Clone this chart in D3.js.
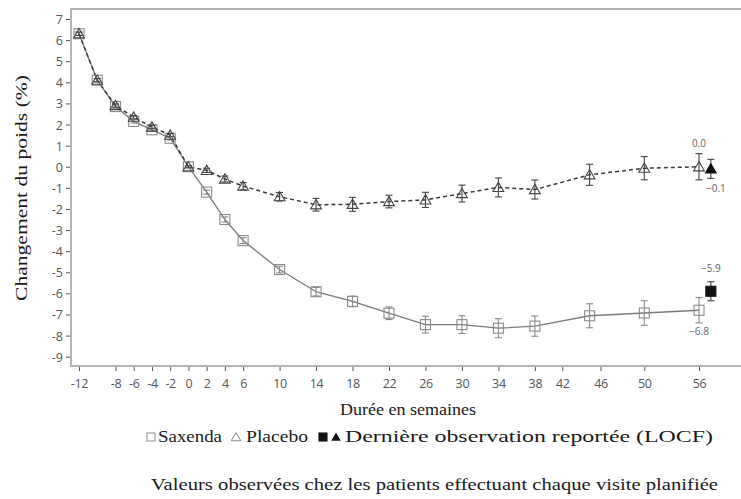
<!DOCTYPE html>
<html><head><meta charset="utf-8">
<script src="https://cdn.jsdelivr.net/npm/d3@7"></script>
<style>body{margin:0;background:#fff}svg{display:block}</style>
</head><body>
<script>
// ---- data ----
const weeks = [-12,-10,-8,-6,-4,-2,0,2,4,6,10,14,18,22,26,30,34,38,44,50,56];
const saxenda = [6.3,4.1,2.85,2.15,1.75,1.35,0.0,-1.2,-2.5,-3.5,-4.87,-5.92,-6.38,-6.94,-7.48,-7.48,-7.65,-7.55,-7.06,-6.93,-6.8];
const saxendaErr = [0.08,0.08,0.08,0.08,0.08,0.08,0.05,0.1,0.12,0.14,0.16,0.2,0.25,0.3,0.4,0.42,0.45,0.48,0.57,0.58,0.6];
const placebo = [6.3,4.1,2.9,2.35,1.88,1.5,0.0,-0.17,-0.58,-0.92,-1.42,-1.8,-1.78,-1.65,-1.57,-1.27,-0.98,-1.08,-0.38,-0.07,0.0];
const placeboErr = [0.08,0.08,0.08,0.08,0.08,0.08,0.05,0.1,0.14,0.17,0.2,0.3,0.33,0.3,0.36,0.4,0.45,0.45,0.5,0.55,0.62];
const locfWeek = 57.3;
const locfSaxenda = -5.9, locfSaxendaErr = 0.45;
const locfPlacebo = -0.1, locfPlaceboErr = 0.45;
const endLabels = [
  {text:"0.0", week:56, value:0.0, pos:"above"},
  {text:"\u22120.1", week:locfWeek, value:-0.1, pos:"belowRight"},
  {text:"\u22125.9", week:locfWeek, value:-5.9, pos:"above"},
  {text:"\u22126.8", week:56, value:-6.8, pos:"below"}
];
const xTickValues = [-12,-8,-6,-4,-2,0,2,4,6,10,14,18,22,26,30,34,38,41,45.2,50,56];
const xTickLabels = ["-12","-8","-6","-4","-2","0","2","4","6","10","14","18","22","26","30","34","38","42","46","50","56"];
const yTickValues = [7,6,5,4,3,2,1,0,-1,-2,-3,-4,-5,-6,-7,-8,-9];
const yTitle = "Changement du poids (%)";
const xTitle = "Durée en semaines";
const legendItems = ["Saxenda","Placebo","Dernière observation reportée (LOCF)"];
const footnote = "Valeurs observées chez les patients effectuant chaque visite planifiée";

// ---- drawing ----
const W = 741, H = 499;
const svg = d3.select("body").append("svg").attr("width",W).attr("height",H);
const x = d3.scaleLinear().domain([-12,56]).range([79,699]);
const y = d3.scaleLinear().domain([-9,7]).range([356.7,19]);
const fLeft = 71, fTop = 9, fBottom = 366, fRight = 741;
const SANS = "Open Sans";
const SERIF = "Liberation Serif";

// frame
svg.append("path").attr("d",`M${fRight},${fTop}H${fLeft}V${fBottom}H${fRight}`)
  .attr("fill","none").attr("stroke","#b4b4b4").attr("stroke-width",2);

// axes
const xAxis = svg.append("g").attr("transform",`translate(0,${fBottom+1})`)
  .call(d3.axisBottom(x).tickValues(xTickValues).tickSize(4).tickPadding(5)
    .tickFormat((d,i)=>xTickLabels[i]));
const yAxis = svg.append("g").attr("transform",`translate(${fLeft-1},0)`)
  .call(d3.axisLeft(y).tickValues(yTickValues).tickSize(4).tickPadding(3)
    .tickFormat(d=>String(d)));
[xAxis,yAxis].forEach(g=>{
  g.attr("font-family",SANS).attr("font-size",12.5);
  g.select(".domain").remove();
  g.selectAll("line").attr("stroke","#555");
  g.selectAll("text").attr("fill","#555");
});
yAxis.selectAll("text").attr("dy","0.36em");
xAxis.selectAll("text").attr("dy","0.95em").attr("letter-spacing","-0.3");

function serifText(xp, yp, str, len, anchor, transform){
  const t = svg.append("text").attr("font-family",SERIF).attr("font-size",17).attr("fill","#1a1a1a")
    .attr("textLength",len).attr("lengthAdjust","spacingAndGlyphs").text(str);
  if(transform){ t.attr("transform",transform); } else { t.attr("x",xp).attr("y",yp); }
  if(anchor) t.attr("text-anchor",anchor);
  return t;
}

// titles
serifText(408,415,xTitle,136,"middle");
serifText(0,0,yTitle,226,"middle","translate(27,188) rotate(-90)");

const data = weeks.map((w,i)=>({w, s:saxenda[i], se:saxendaErr[i], p:placebo[i], pe:placeboErr[i]}));

// lines
svg.append("path").datum(data).attr("fill","none").attr("stroke","#7a7a7a").attr("stroke-width",1.3)
  .attr("d",d3.line().x(d=>x(d.w)).y(d=>y(d.s)));
svg.append("path").datum(data).attr("fill","none").attr("stroke","#3a3a3a").attr("stroke-width",1.5)
  .attr("stroke-dasharray","4,3")
  .attr("d",d3.line().x(d=>x(d.w)).y(d=>y(d.p)));

function errBar(cx, v, e, col){
  const g = svg.append("g").attr("stroke",col).attr("stroke-width",1.1);
  g.append("line").attr("x1",cx).attr("x2",cx).attr("y1",y(v+e)).attr("y2",y(v-e));
  g.append("line").attr("x1",cx-3.5).attr("x2",cx+3.5).attr("y1",y(v+e)).attr("y2",y(v+e));
  g.append("line").attr("x1",cx-3.5).attr("x2",cx+3.5).attr("y1",y(v-e)).attr("y2",y(v-e));
}
const tri = d3.symbol().type(d3.symbolTriangle).size(50);
function square(cx, cy, s, fill, stroke){
  svg.append("rect").attr("x",cx-s/2).attr("y",cy-s/2).attr("width",s).attr("height",s)
    .attr("fill",fill).attr("stroke",stroke).attr("stroke-width",1.1);
}
function triangle(cx, cy, fill, stroke){
  svg.append("path").attr("d",tri).attr("transform",`translate(${cx},${cy+1})`)
    .attr("fill",fill).attr("stroke",stroke).attr("stroke-width",1.1);
}

data.forEach(d=>{
  errBar(x(d.w), d.s, d.se, "#8a8a8a");
  square(x(d.w), y(d.s), 10, "none", "#8a8a8a");
});
data.forEach(d=>{
  errBar(x(d.w), d.p, d.pe, "#444");
  triangle(x(d.w), y(d.p), "none", "#444");
});
errBar(x(locfWeek), locfSaxenda, locfSaxendaErr, "#444");
square(x(locfWeek), y(locfSaxenda), 10, "#111", "#111");
errBar(x(locfWeek), locfPlacebo, locfPlaceboErr, "#444");
triangle(x(locfWeek), y(locfPlacebo), "#111", "#111");

endLabels.forEach(l=>{
  let cx = x(l.week), cy = y(l.value);
  if(l.pos==="above"){ cy -= 23; }
  else if(l.pos==="below"){ cy += 21; }
  else { cx += 5; cy += 20; }
  svg.append("text").attr("x",cx).attr("y",cy).attr("dy","0.35em").attr("text-anchor","middle")
    .attr("font-family",SANS).attr("font-size",10).attr("fill","#666").text(l.text);
});

// legend
const ly = 437;
square(151, ly, 8, "none", "#999");
serifText(158, ly+5, legendItems[0], 64);
svg.append("path").attr("d",d3.symbol().type(d3.symbolTriangle).size(40))
  .attr("transform",`translate(236,${ly+1})`).attr("fill","none").attr("stroke","#888").attr("stroke-width",1);
serifText(246, ly+5, legendItems[1], 62);
square(323, ly, 8, "#111", "#111");
svg.append("path").attr("d",d3.symbol().type(d3.symbolTriangle).size(40))
  .attr("transform",`translate(336,${ly+1})`).attr("fill","#111");
serifText(345, ly+5, legendItems[2], 368);

serifText(151, 490, footnote, 567);
</script>
</body></html>
